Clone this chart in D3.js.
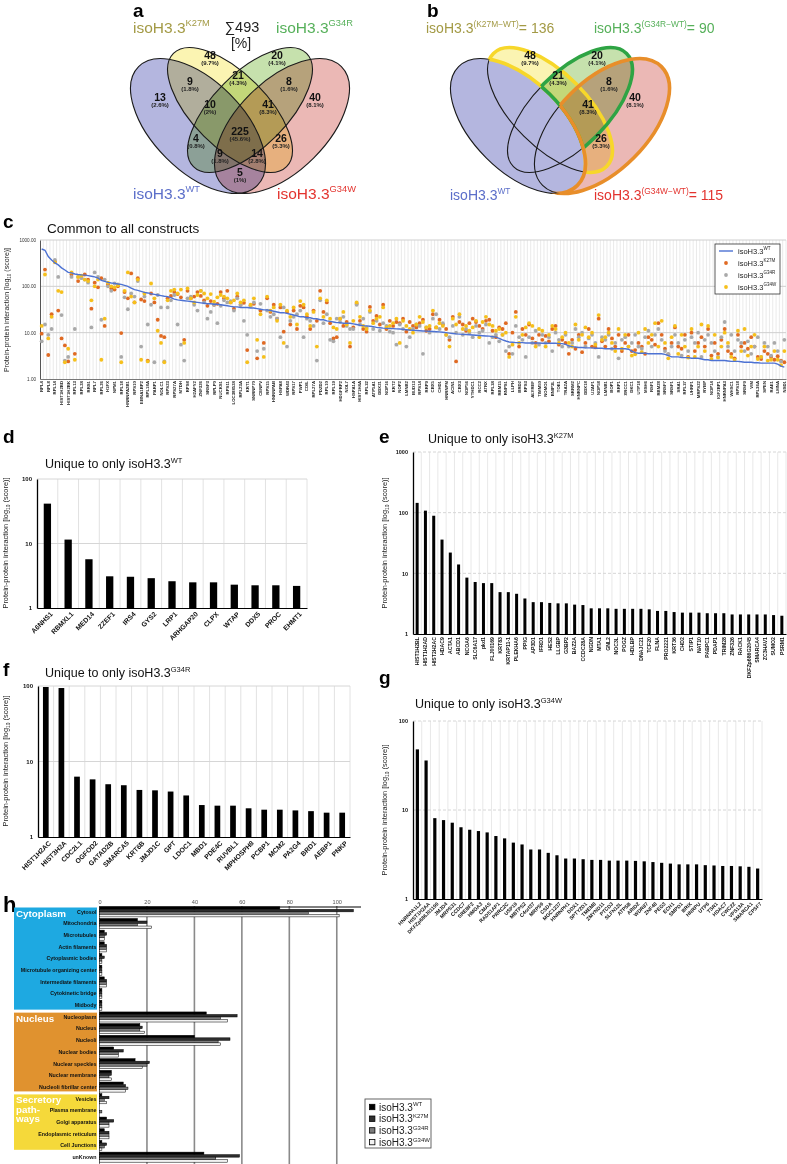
<!DOCTYPE html>
<html>
<head>
<meta charset="utf-8">
<script src="https://cdn.jsdelivr.net/npm/d3@7/dist/d3.min.js"></script>
<style>
html,body{margin:0;padding:0;background:#fff;}
svg{display:block;}
</style>
</head>
<body>
<svg id="fig" width="787" height="1164"></svg>
<script>
// ================= DATA =================
// Venn (panels a, b)
const vennSets = ["WT", "K27M", "G34R", "G34W"];
const regionSets = ["K27M","G34R","WT","G34W","WT&K27M","K27M&G34R","G34R&G34W","WT&K27M&G34R","K27M&G34R&G34W","WT&K27M&G34R&G34W","WT&G34R","K27M&G34W","WT&G34R&G34W","WT&K27M&G34W","WT&G34W"];
const regionCounts = [48, 20, 13, 40, 9, 21, 8, 10, 41, 225, 4, 26, 9, 14, 5];
const regionPct = ["9.7%","4.1%","2.6%","8.1%","1.8%","4.3%","1.6%","2%","8.3%","45.6%","0.8%","5.3%","1.8%","2.8%","1%"];

// Panel c: common to all constructs (225 proteins)
const commonLabels = ["RPL4","RPL8","RPL14","HIST1H2BD","HIST1H2BK","RPL13","RPL24","RRS1","RPL7","RPL26",
"H1FX","NPM1","RPL18","HNRNPA2B1","RPS10","EBNA1BP2","RPL18A","PARP1","NOLC1","RPS23",
"RPS27A","MTDH","RPS8","H2AFY2","ZNF326","SRSF3","RPLP0","NUCKS1","RPS11","LOC388524",
"RPL23A","KRT1","SNRNP70","CENPV","RPS15","HNRNPAB","HSPA8","WDR43","RPS17","PWP1",
"COIL","RPL27A","PDZD2","RPL10","RPL19","HDGFRP2","NOL7","HSPA1A","HIST1H4A","RPL32",
"ATP5A1","DDX21","NOP16","KRT2","NOP2","LMNB2","BUD13","RPS14","RRP9","CBX5",
"CHD1","HNRNPM","ACIN1","CBX3","NOP56","YTHDC1","RCC2","ATRX","RPL34","RBM15",
"RNPS1","LLPH","BRD2","RPS3","ALYREF","TIMM50","NOMO1","BNIP3L","TOE1","TRA2A",
"SRRM2","HNRNPC","DDX18","U2AF1","NOP58","LMNB1","BOP1","RRP1","XRCC1","DKC1",
"UTP18","MSH6","RSF1","RBM28","SRSF7","SRSF1","SRA1","RPL37","UHRF1","MRPS22",
"RYBP","NOP14","IGF2BP1","HNRNPA3","WHSC1","RPS18","SRSF9","VIM","RPL36A","SPEN",
"RAE1","LMNA","NSD1"];
const commonWT = [640,600,440,370,320,290,250,225,200,195,
185,180,177,175,170,165,160,150,135,128,
122,118,116,112,110,105,100,92,85,82,
78,74,72,69,67,65,63,61,60,57,
53,51,50,49,48,47,46,45,44,43,
42,42,41,41,40,39,38,37,36,36,
35,35,35,34,34,33,32,31,31,30,
29,28,27,27,26,25,24,23,22,22,
21,21,20,20,19,19,18,17.5,17,16.5,
16.5,16,16,16,15.5,15,14.5,14.2,14,13.8,
13.5,13,12.8,12.5,12.4,12.3,12.2,12.1,12,11.8,
11.6,11.4,11.2,11.1,11,10.9,10.8,10.7,10.6,10.5,
10.4,10.2,10,9.8,9.6,9.4,9.3,9.2,9.1,9,
8.9,8.8,8.7,8.6,8.5,8.4,8.2,8,7.5,7,
6.6,6.3,6.2,6.1,6.1,6.1,6.0,6.0,6.0,6.0,
6.0,5.9,5.9,5.9,5.9,5.9,5.8,5.8,5.6,5.2,
5.0,4.9,4.8,4.8,4.7,4.7,4.7,4.6,4.6,4.6,
4.5,4.5,4.5,4.5,4.5,4.5,4.5,4.4,4.0,3.7,
3.6,3.6,3.6,3.5,3.5,3.5,3.5,3.5,3.4,3.2,
3.0,3.0,3.0,2.9,2.9,2.9,2.8,2.8,2.8,2.7,
2.6,2.6,2.5,2.5,2.5,2.5,2.5,2.45,2.4,2.4,
2.4,2.35,2.3,2.3,2.3,2.25,2.25,2.2,2.2,2.2,
2.2,2.2,2.1,1.9,1.8];
const commonK27M = [9.5,230,3.3,25,340,30,7.5,5.3,2.4,180,
3.5,130,160,180,140,33,120,95,150,14,
110,90,85,100,9.8,75,55,190,45,150,
52,48,2.5,70,45,19,8.5,8,55,62,
75,68,58,7,80,55,60,75,62,50,
38,48,40,42,75,55,80,45,33,60,
40,44,4.2,38,42,2.8,30,6,55,28,
40,20,35,10.5,28,15,30,12,38,35,
22,12,30,18,80,28,45,16,7.5,8,
20,14,17,5,13,42,18,12,10.5,36,
18,23,15,40,12,18,14,17,16,20,
10.5,17,14,13,16,19,11,12,25,13,
19,15,12,7,22,2.4,17,15,11,16,
20,17,14,12,18,19,11,8,13,12,
16,3.5,10,28,5,12,9,15,7.5,6,
9,7,8.5,6.5,12,14,5.5,7,6,3.5,
7,4.5,9,3.8,6,12,5,4.8,20,6.5,
5,12,7.5,5,9,4,6,9,4,4.2,
6,5,3.5,8,7,5.5,16,9,4.5,3.4,
6,13,5,4.5,9,3,10,4,6,8,
5,12,3.2,6,3.5,7,12,4,3.5,2.8,
9,5,6,4.5,8,5,3,2.7,4,3.5,
3,2.6,3.1,2.5,2.3];
const commonG34R = [6.5,15,9,12,370,160,24,2.5,3,160,
12,160,150,140,120,13,200,160,19,140,
100,80,115,110,3,58,32,70,60,130,
5,60,15,40,2.3,65,35,2.4,35,50,
65,15,5.5,2.5,55,60,40,30,80,45,
20,28,40,16,38,50,45,48,30,55,
40,18,9,38,45,4,42,4.5,30,22,
25,20,8,35,5,18,22,25,30,8,
20,18,14,2.5,50,16,25,7,6.5,20,
17,22,14,12,12,40,15,20,13,28,
12,18,11,16,14,10.5,10,5.5,15,12,
5,8,12,15,14,3.5,13,10,20,25,
12,16,9,8,14,10,22,9,12,10,
8,14,10,11,15,6,8,9,6.5,9,
4,5,3.5,14,8,7,3,8,6,11,
5.5,9,6,8,4,10,7,5,9,5,
6,12,8,10,5,7.5,9,6,3,8,
7,9,4.5,6,2.8,7,8,5,6,9,
5,4.5,8,11,5,9,12,7,4,3.5,
5,9,6,3.2,7,4,8,6,10,3,
7,9,6,4,3,8,17,5,9,4,
7,6,4,6.5,3.5,5,8,3,6,5,
3.2,6,4,2.4,7];
const commonG34W = [14,180,7.5,22,330,80,75,2.3,4.5,200,
2.6,160,170,140,130,50,100,140,2.6,20,
120,100,95,105,2.3,80,200,60,45,140,
2.6,70,2.4,115,55,11,6,2.3,50,80,
85,70,85,6,90,55,45,65,80,70,
55,68,47,58,65,60,55,45,50,70,
45,50,2.3,40,55,7,25,3,60,30,
35,18,40,6,30,22,35,15,48,40,
25,14,28,5,55,22,50,20,13,12,
20,28,15,6,18,45,22,14,12,30,
16,20,22,35,13,14,16,20,6,18,
14,12,10,15,22,17,13,14,30,13,
16,14,9,5,20,15,25,12,14,11,
13,18,8,17,22,15,14,11,12,9,
10,3,5.5,22,6,9,13,16,14,5,
12,11,5,9,14,12,6,8,10,6,
5,15,7,9,13,8,10,5.5,24,7,
8,10,6,4,12,4.5,9,5,3.2,3.4,
10,3.8,12,6,9,16,5,18,6,2.8,
8,14,3.5,9,5,2.9,12,3,5,15,
4,14,2.7,9,2.9,5,10,6,3,2.6,
11,4,12,3.2,5,9,2.7,3,5,2.5,
2.6,4,2.6,2,4];

// Panel d: unique to WT
const dCats = ["A6NHS1","RBMXL1","MED14","ZZEF1","IRS4","GYS2","LRP1","ARHGAP20","CLPX","WTAP","DDX5","PROC","EHMT1"];
const dVals = [41.5,11.5,5.7,3.1,3.05,2.9,2.6,2.5,2.5,2.3,2.25,2.25,2.2];
// Panel e: unique to K27M
const eCats = ["HIST1H2BL","HIST1H2AD","HIST2H2AC","HDAC9","ACTA1","ABCD1","NCOA6","SLC6A17","pkd1","FLJ00169",
"KRT83","KRTAP11-1","PLEKHA6","PPIG","AP3D1","IFRD1","HES2","LLGBP","G3BP2","BAZ2A",
"CCDC28A","NGDN","MTA1","GNL2","NOC3L","POGZ","HDLBP","DNAJC21","TCF20","FLNA",
"PRO2221","KRT36","CHD2","STIP1","NAT10","PABPC1","PDAP1","TRIM28","ZNF326","RACK1",
"DKFZp686G2045","SMARCA4","ZC3HAV1","SUMO2","PSRM1"];
const eVals = [145,108,89,36,22,14,8.5,7.2,6.9,6.9,
4.9,4.9,4.6,3.85,3.35,3.35,3.25,3.2,3.2,3.05,
3.0,2.65,2.65,2.65,2.6,2.6,2.6,2.6,2.55,2.4,
2.4,2.3,2.25,2.25,2.25,2.2,2.2,2.2,2.1,2.1,
2.1,2.1,2.1,2.05,2.0];
// Panel f: unique to G34R
const fCats = ["HIST1H2AC","HIST3H2A","CDC2L1","OGFOD2","GATAD2B","SMARCA5","KRT6B","JMJD1C","GPT","LDOC1",
"MBD1","PDE4C","RUVBL1","MPHOSPH8","PCBP1","MCM2","PA2G4","BRD1","AEBP1","PNKP"];
const fVals = [97,94,6.3,5.8,5.0,4.85,4.2,4.15,4.0,3.55,2.65,2.6,2.6,2.4,2.3,2.3,2.25,2.2,2.1,2.1];
// Panel g: unique to G34W
const gCats = ["HNRNPA1L2","HIST1H2AA","DKFZp686J01190","JMJD4","MRPS31","CCDC7","SREBF2","HMGA3","CMAS","RAD51AP1",
"PRRC2C","USP19","MBTPS2","C4orf37","MRPS9","CSDA","MGC1237","HNRNPH1","DDX1","SPTY2D1",
"TMEM8","ZMYND11","PTCD3","SLFN12L","ATP5B","ARID2","WDR87","ZNF48","PEG3","ECH1",
"SMPD1","BRIX","HNRPU","UTP6","TSR1","HDAC7","CWC22","VPS13A","SMARCA1","CPSF7"];
const gVals = [48,36,8.1,7.7,7.2,6.4,6.0,5.8,5.6,5.1,
4.8,4.3,4.1,3.6,3.6,3.3,3.1,2.85,2.85,2.8,
2.75,2.75,2.7,2.7,2.7,2.68,2.65,2.6,2.55,2.5,
2.45,2.45,2.45,2.4,2.38,2.35,2.35,2.33,2.3,2.2];
// Panel h: subcellular localisation counts
const hRows = ["Cytosol","Mitochondria","Microtubules","Actin filaments","Cytoplasmic bodies","Microtubule organizing center","Intermediate filaments","Cytokinetic bridge","Midbody",
"Nucleoplasm","Nucleus","Nucleoli","Nuclear bodies","Nuclear speckles","Nuclear membrane","Nucleoli fibrillar center",
"Vesicles","Plasma membrane","Golgi apparatus","Endoplasmic reticulum","Cell Junctions","unKnown"];
const hWT   = [76,16,2,2,1,1,2,1,1,45,17,40,6,15,5,10,1,0,3,2,1,44];
const hK27M = [107,20,3,3,2,1,3,1,1,58,18,55,10,21,5,11,4,0,6,4,3,59];
const hG34R = [88,16,2,3,1,1,3,1,1,51,17,50,8,20,4,12,2,1,4,4,2,49];
const hG34W = [101,22,2,3,1,1,3,1,1,54,19,51,8,18,5,11,3,0,4,4,1,54];
const hGroups = ["Cytoplasm","Nucleus","Secretory\npath-\nways"];
const hGroupFirst = ["Cytosol","Nucleoplasm","Vesicles"];
const hGroupLast = ["Midbody","Nucleoli fibrillar center","Cell Junctions"];
const hTicks = [0,20,40,60,80,100];

// ================= DRAW =================
const FONT = '"Liberation Sans", Arial, Helvetica, sans-serif';
const svg = d3.select('#fig');
svg.append('rect').attr('width',787).attr('height',1164).attr('fill','#fff');
const defs = svg.append('defs');

function T(g, x, y, s, size, o = {}) {
  const t = g.append('text').attr('x', x).attr('y', y).text(s)
    .style('font-size', size + 'px').style('font-family', FONT)
    .attr('fill', o.fill || '#000');
  if (o.anchor) t.attr('text-anchor', o.anchor);
  if (o.bold) t.style('font-weight', 'bold');
  return t;
}
function iso(g, x, y, sup, size, o = {}) {
  const t = g.append('text').attr('x', x).attr('y', y)
    .style('font-size', size + 'px').style('font-family', FONT).attr('fill', o.fill || '#000');
  if (o.anchor) t.attr('text-anchor', o.anchor);
  if (o.bold) t.style('font-weight', 'bold');
  t.append('tspan').text(o.prefix !== undefined ? o.prefix : 'isoH3.3');
  const sh = size * 0.42;
  t.append('tspan').attr('dy', -sh).style('font-size', (size * (o.supScale || 0.6)) + 'px').text(sup);
  if (o.suffix) t.append('tspan').attr('dy', sh).style('font-size', size + 'px').text(o.suffix);
  return t;
}
function yTitle(x, y, size) {
  const t = svg.append('text').attr('transform', `translate(${x},${y}) rotate(-90)`)
    .attr('text-anchor', 'middle').style('font-size', size + 'px').style('font-family', FONT).attr('fill', '#222');
  t.append('tspan').text('Protein-protein interaction [log');
  t.append('tspan').attr('dy', size * 0.3).style('font-size', (size * 0.65) + 'px').text('10');
  t.append('tspan').attr('dy', -size * 0.3).text(' (score)]');
}

// panel letters
[['a',133,17],['b',427,17],['c',3,228],['d',3,443],['e',379,443],['f',3,676],['g',379,684],['h',3,912]]
  .forEach(([l, x, y]) => T(svg, x, y, l, l === 'h' ? 22 : 19, {bold: true}));

// ---------- Venn ----------
const vennGeom = {
  WT:   {dx: -42, cy: 126, a: 84, b: 45, rot: 45},
  K27M: {dx: -10, cy: 110, a: 80, b: 37, rot: 45},
  G34R: {dx: 10,  cy: 110, a: 80, b: 37, rot: -45},
  G34W: {dx: 42,  cy: 126, a: 84, b: 45, rot: -45}
};
const vennFill = {WT: '#b4b6df', K27M: '#fbf4b2', G34R: '#c6e1ad', G34W: '#ebb8b5'};
const setColor = {WT: '#5b6ec9', K27M: '#a39a45', G34R: '#56b05a', G34W: '#e3342f'};
const outlineColor = {K27M: '#f7d72a', G34R: '#2ea444', G34W: '#e88e2a'};
const regionPos = [[-30,55],[37,55],[-80,97],[75,97],[-50,81],[-2,75],[49,81],[-30,104],[28,104],[0,131],[-44,138],[41,138],[-20,153],[17,153],[0,172]];

function ell(sel, s, ox) {
  const e = vennGeom[s];
  return sel.attr('cx', ox + e.dx).attr('cy', e.cy).attr('rx', e.a).attr('ry', e.b)
    .attr('transform', `rotate(${e.rot},${ox + e.dx},${e.cy})`);
}
function venn(ox, mode) {
  const g = svg.append('g').style('isolation', 'isolate');
  vennSets.forEach(s => ell(g.append('ellipse'), s, ox).attr('fill', vennFill[s]).style('mix-blend-mode', 'multiply'));
  if (mode === 'b') ell(g.append('ellipse'), 'WT', ox).attr('fill', vennFill.WT);
  vennSets.forEach(s => ell(g.append('ellipse'), s, ox).attr('fill', 'none').attr('stroke', '#1a1a1a').attr('stroke-width', 1.1));
  if (mode === 'b') {
    const mid = 'outWT' + ox;
    const m = defs.append('mask').attr('id', mid).attr('maskUnits', 'userSpaceOnUse')
      .attr('x', 0).attr('y', 0).attr('width', 787).attr('height', 1164);
    m.append('rect').attr('width', 787).attr('height', 1164).attr('fill', '#fff');
    ell(m.append('ellipse'), 'WT', ox).attr('fill', '#000');
    ['K27M', 'G34R', 'G34W'].forEach(s => {
      const cid = 'clip' + s + ox;
      ell(defs.append('clipPath').attr('id', cid).append('ellipse'), s, ox);
      const g1 = svg.append('g').attr('mask', `url(#${mid})`);
      ell(g1.append('ellipse'), s, ox).attr('fill', 'none').attr('stroke', outlineColor[s]).attr('stroke-width', 3.6);
      const g2 = svg.append('g').attr('clip-path', `url(#${cid})`);
      ell(g2.append('ellipse'), 'WT', ox).attr('fill', 'none').attr('stroke', outlineColor[s]).attr('stroke-width', 3.6);
    });
  }
  const lg = svg.append('g');
  regionSets.forEach((rs, i) => {
    if (mode === 'b' && rs.split('&').includes('WT')) return;
    const [dx, y] = regionPos[i];
    T(lg, ox + dx, y + 3.5, regionCounts[i], 10.5, {bold: true, anchor: 'middle', fill: '#111'});
    T(lg, ox + dx, y + 10, '(' + regionPct[i] + ')', 6, {bold: true, anchor: 'middle', fill: '#222'});
  });
}
venn(240, 'a');
venn(560, 'b');

// panel a titles
const total = d3.sum(regionCounts);
iso(svg, 133, 33, 'K27M', 15.5, {fill: setColor.K27M});
iso(svg, 276, 33, 'G34R', 15.5, {fill: setColor.G34R});
iso(svg, 133, 199, 'WT', 15.5, {fill: setColor.WT});
iso(svg, 277, 199, 'G34W', 15.5, {fill: setColor.G34W});
T(svg, 242, 32, '\u2211' + total, 14.5, {anchor: 'middle', fill: '#222'});
T(svg, 241, 47.5, '[%]', 14, {anchor: 'middle', fill: '#222'});
// panel b titles (mutant minus WT)
function diffCount(s) {
  return d3.sum(regionSets.map((rs, i) => { const p = rs.split('&'); return p.includes(s) && !p.includes('WT') ? regionCounts[i] : 0; }));
}
iso(svg, 426, 33, '(K27M\u2212WT)', 14, {fill: setColor.K27M, suffix: '= ' + diffCount('K27M')});
iso(svg, 594, 33, '(G34R\u2212WT)', 14, {fill: setColor.G34R, suffix: '= ' + diffCount('G34R')});
iso(svg, 450, 200, 'WT', 14, {fill: setColor.WT});
iso(svg, 594, 200, '(G34W\u2212WT)', 14, {fill: setColor.G34W, suffix: '= ' + diffCount('G34W')});

// ---------- Panel c ----------
(function () {
  const x0 = 40, x1 = 786, yT = 240, yB = 379;
  const idx = d3.range(commonWT.length);
  const x = d3.scaleBand().domain(idx).range([x0, x1]);
  const y = d3.scaleLog().domain([1, 1000]).range([yB, yT]);
  const bw = x.bandwidth();
  const g = svg.append('g');
  g.append('g').selectAll('line').data(idx).join('line')
    .attr('x1', i => x(i) + bw).attr('x2', i => x(i) + bw).attr('y1', yT).attr('y2', yB)
    .attr('stroke', '#d9d9d9').attr('stroke-width', 0.55);
  g.append('g').selectAll('line').data([10, 100, 1000]).join('line')
    .attr('x1', x0).attr('x2', x1).attr('y1', d => y(d)).attr('y2', d => y(d))
    .attr('stroke', '#cfcfcf').attr('stroke-width', 1);
  const ay = g.append('g').attr('transform', `translate(${x0},0)`)
    .call(d3.axisLeft(y).tickValues([1, 10, 100, 1000]).tickFormat(d3.format('.2f')).tickSize(0).tickPadding(4));
  ay.select('.domain').attr('stroke', '#555').attr('stroke-width', 1);
  ay.selectAll('text').style('font-size', '4.6px').style('font-family', FONT).attr('fill', '#333').attr('dy', '0.35em');
  const ax = g.append('g').attr('transform', `translate(0,${yB})`)
    .call(d3.axisBottom(x).tickValues(idx.filter(i => i % 2 === 0)).tickFormat(i => commonLabels[i / 2] || '').tickSize(0));
  ax.select('.domain').attr('stroke', '#777').attr('stroke-width', 1);
  ax.selectAll('text').attr('x', 0).attr('y', 0).attr('dy', '0.35em')
    .attr('transform', 'translate(0,2) rotate(-90)').attr('text-anchor', 'end')
    .style('font-size', '4.3px').style('font-weight', 'bold').style('font-family', FONT).attr('fill', '#222');
  const series = [[commonK27M, '#e06a23'], [commonG34R, '#a9a9a9'], [commonG34W, '#f6c01c']];
  series.forEach(([vals, col]) => {
    g.append('g').selectAll('circle').data(vals).join('circle')
      .attr('cx', (d, i) => x(i) + bw / 2).attr('cy', d => y(d)).attr('r', 1.9).attr('fill', col);
  });
  g.append('path').datum(commonWT)
    .attr('d', d3.line().x((d, i) => x(i) + bw / 2).y(d => y(d)))
    .attr('fill', 'none').attr('stroke', '#4d72d3').attr('stroke-width', 1.4);
  // legend
  const L = g.append('g');
  L.append('rect').attr('x', 715).attr('y', 244).attr('width', 65).attr('height', 50)
    .attr('fill', '#fff').attr('stroke', '#333').attr('stroke-width', 0.8);
  L.append('line').attr('x1', 719).attr('x2', 733).attr('y1', 251).attr('y2', 251).attr('stroke', '#4d72d3').attr('stroke-width', 1.4);
  iso(L, 738, 253.5, 'WT', 7.5, {fill: '#222'});
  [['K27M', '#e06a23', 263], ['G34R', '#a9a9a9', 275], ['G34W', '#f6c01c', 287]].forEach(([s, c, yy]) => {
    L.append('circle').attr('cx', 726).attr('cy', yy).attr('r', 1.9).attr('fill', c);
    iso(L, 738, yy + 2.5, s, 7.5, {fill: '#222'});
  });
  T(svg, 47, 233, 'Common to all constructs', 13.5, {fill: '#111'});
  yTitle(8.5, 310, 7);
})();

// ---------- log bar panels d, e, f, g ----------
function logBarPanel(o) {
  const g = svg.append('g');
  const x = d3.scaleBand().domain(o.cats).range([o.x0, o.x1]);
  const y = d3.scaleLog().domain([1, o.max]).range([o.y1, o.y0]);
  const bw = x.bandwidth();
  g.append('g').selectAll('line').data(o.cats).join('line')
    .attr('x1', d => x(d) + bw).attr('x2', d => x(d) + bw).attr('y1', o.y0).attr('y2', o.y1)
    .attr('stroke', '#e2e2e2').attr('stroke-width', o.vgw || 1);
  g.append('g').selectAll('line').data(o.ticks.filter(t => t > 1)).join('line')
    .attr('x1', o.x0).attr('x2', o.x1).attr('y1', d => y(d)).attr('y2', d => y(d))
    .attr('stroke', '#d6d6d6').attr('stroke-width', 1).attr('stroke-dasharray', o.dash || null);
  g.append('g').selectAll('rect').data(o.vals).join('rect')
    .attr('x', (d, i) => x(o.cats[i]) + (bw - o.barW) / 2).attr('width', o.barW)
    .attr('y', d => y(d)).attr('height', d => o.y1 - y(d)).attr('fill', '#000');
  const ay = g.append('g').attr('transform', `translate(${o.x0},0)`)
    .call(d3.axisLeft(y).tickValues(o.ticks).tickFormat(d3.format('d')).tickSize(0).tickPadding(5));
  ay.select('.domain').attr('stroke', '#000').attr('stroke-width', 1.3);
  ay.selectAll('text').style('font-size', o.tickSize + 'px').style('font-weight', 'bold').style('font-family', FONT).attr('fill', '#111');
  const ax = g.append('g').attr('transform', `translate(0,${o.y1})`).call(d3.axisBottom(x).tickSize(0));
  ax.select('.domain').attr('stroke', '#000').attr('stroke-width', 1.2);
  const lt = ax.selectAll('text').attr('x', 0).attr('y', 0).attr('dy', '0.35em').attr('text-anchor', 'end')
    .style('font-size', o.labelSize + 'px').style('font-weight', 'bold').style('font-family', FONT).attr('fill', '#111');
  if (o.labelRot === -90) lt.attr('transform', 'translate(0,3) rotate(-90)');
  else lt.attr('transform', `translate(${o.labelDx || 3},${o.labelDy || 4}) rotate(-45)`);
}
logBarPanel({cats: dCats, vals: dVals, x0: 37, x1: 307, y0: 479, y1: 608, max: 100, ticks: [1, 10, 100], barW: 7.3, labelRot: -45, labelSize: 6.8, tickSize: 6, labelDx: 4, labelDy: 5});
logBarPanel({cats: eCats, vals: eVals, x0: 413, x1: 786, y0: 452, y1: 634, max: 1000, ticks: [1, 10, 100, 1000], barW: 3, labelRot: -90, labelSize: 5.2, tickSize: 5.5, dash: '3,2', vgw: 0.8});
logBarPanel({cats: fCats, vals: fVals, x0: 38, x1: 350, y0: 686, y1: 837, max: 100, ticks: [1, 10, 100], barW: 5.7, labelRot: -45, labelSize: 6.8, tickSize: 6, labelDx: 4, labelDy: 5});
logBarPanel({cats: gCats, vals: gVals, x0: 413, x1: 762, y0: 721, y1: 899, max: 100, ticks: [1, 10, 100], barW: 3.2, labelRot: -45, labelSize: 5.1, tickSize: 5.5, dash: '3,2', vgw: 0.8, labelDx: 3, labelDy: 4});
iso(svg, 45, 468, 'WT', 12.5, {prefix: 'Unique to only isoH3.3', fill: '#111'});
iso(svg, 428, 443, 'K27M', 12.5, {prefix: 'Unique to only isoH3.3', fill: '#111'});
iso(svg, 45, 677, 'G34R', 12.5, {prefix: 'Unique to only isoH3.3', fill: '#111'});
iso(svg, 415, 708, 'G34W', 12.5, {prefix: 'Unique to only isoH3.3', fill: '#111'});
yTitle(8, 543, 7.4);
yTitle(386.5, 543, 7.4);
yTitle(8, 761, 7.4);
yTitle(386.5, 810, 7.4);

// ---------- Panel h ----------
(function () {
  const g = svg.append('g');
  const x = d3.scaleLinear().domain([0, 110]).range([99.5, 360.5]);
  const y = d3.scaleBand().domain(hRows).range([906, 1163]);
  const names = ['WT', 'K27M', 'G34R', 'G34W'];
  const hSeries = [hWT, hK27M, hG34R, hG34W];
  const cols = ['#000', '#2e2e2e', '#7c7c7c', '#f2f2f2'];
  const s = d3.scaleBand().domain(names).range([0.8, y.bandwidth() - 0.8]);
  const boxCols = ['#1ea9e1', '#e0922f', '#f5d93a'];
  hGroups.forEach((name, k) => {
    const top = y(hGroupFirst[k]) + 1.5, bot = y(hGroupLast[k]) + y.bandwidth() - 1.5;
    g.append('rect').attr('x', 14).attr('y', top).attr('width', 83).attr('height', bot - top).attr('fill', boxCols[k]);
    name.split('\n').forEach((ln, j) => T(g, 16, top + 9 + j * 9.4, ln, 9.8, {bold: true, fill: '#fff'}));
  });
  g.append('g').selectAll('line').data(hTicks.filter(t => t > 0)).join('line')
    .attr('x1', d => x(d)).attr('x2', d => x(d)).attr('y1', 906).attr('y2', 1164)
    .attr('stroke', '#8a8a8a').attr('stroke-width', 1.6);
  g.append('line').attr('x1', x(0)).attr('x2', x(0)).attr('y1', 906).attr('y2', 1164).attr('stroke', '#555').attr('stroke-width', 0.8);
  hSeries.forEach((vals, k) => {
    g.append('g').selectAll('rect').data(vals).join('rect')
      .attr('x', x(0)).attr('y', (d, i) => y(hRows[i]) + s(names[k]))
      .attr('width', d => x(d) - x(0)).attr('height', s.bandwidth())
      .attr('fill', cols[k]).attr('stroke', d => d > 0 ? '#000' : 'none').attr('stroke-width', 0.5);
  });
  const ax = g.append('g').attr('transform', 'translate(0,906.5)')
    .call(d3.axisTop(x).tickValues(hTicks).tickSize(0).tickPadding(3));
  ax.select('.domain').attr('stroke', '#000').attr('stroke-width', 1);
  ax.selectAll('text').style('font-size', '5.6px').style('font-family', FONT).attr('fill', '#555');
  hRows.forEach(r => T(g, 96.5, y(r) + y.bandwidth() / 2 + 1.8, r, 5.3, {bold: true, anchor: 'end', fill: '#111'}));
  // legend
  const L = g.append('g');
  L.append('rect').attr('x', 365).attr('y', 1099).attr('width', 66).attr('height', 49)
    .attr('fill', '#fff').attr('stroke', '#555').attr('stroke-width', 0.9);
  names.forEach((n, k) => {
    const yy = 1107 + k * 11.7;
    L.append('rect').attr('x', 369.5).attr('y', yy - 2.7).attr('width', 5.4).attr('height', 5.4)
      .attr('fill', cols[k]).attr('stroke', '#000').attr('stroke-width', 0.8);
    iso(L, 379, yy + 3.6, n, 10, {fill: '#222'});
  });
})();
</script>
</body>
</html>
